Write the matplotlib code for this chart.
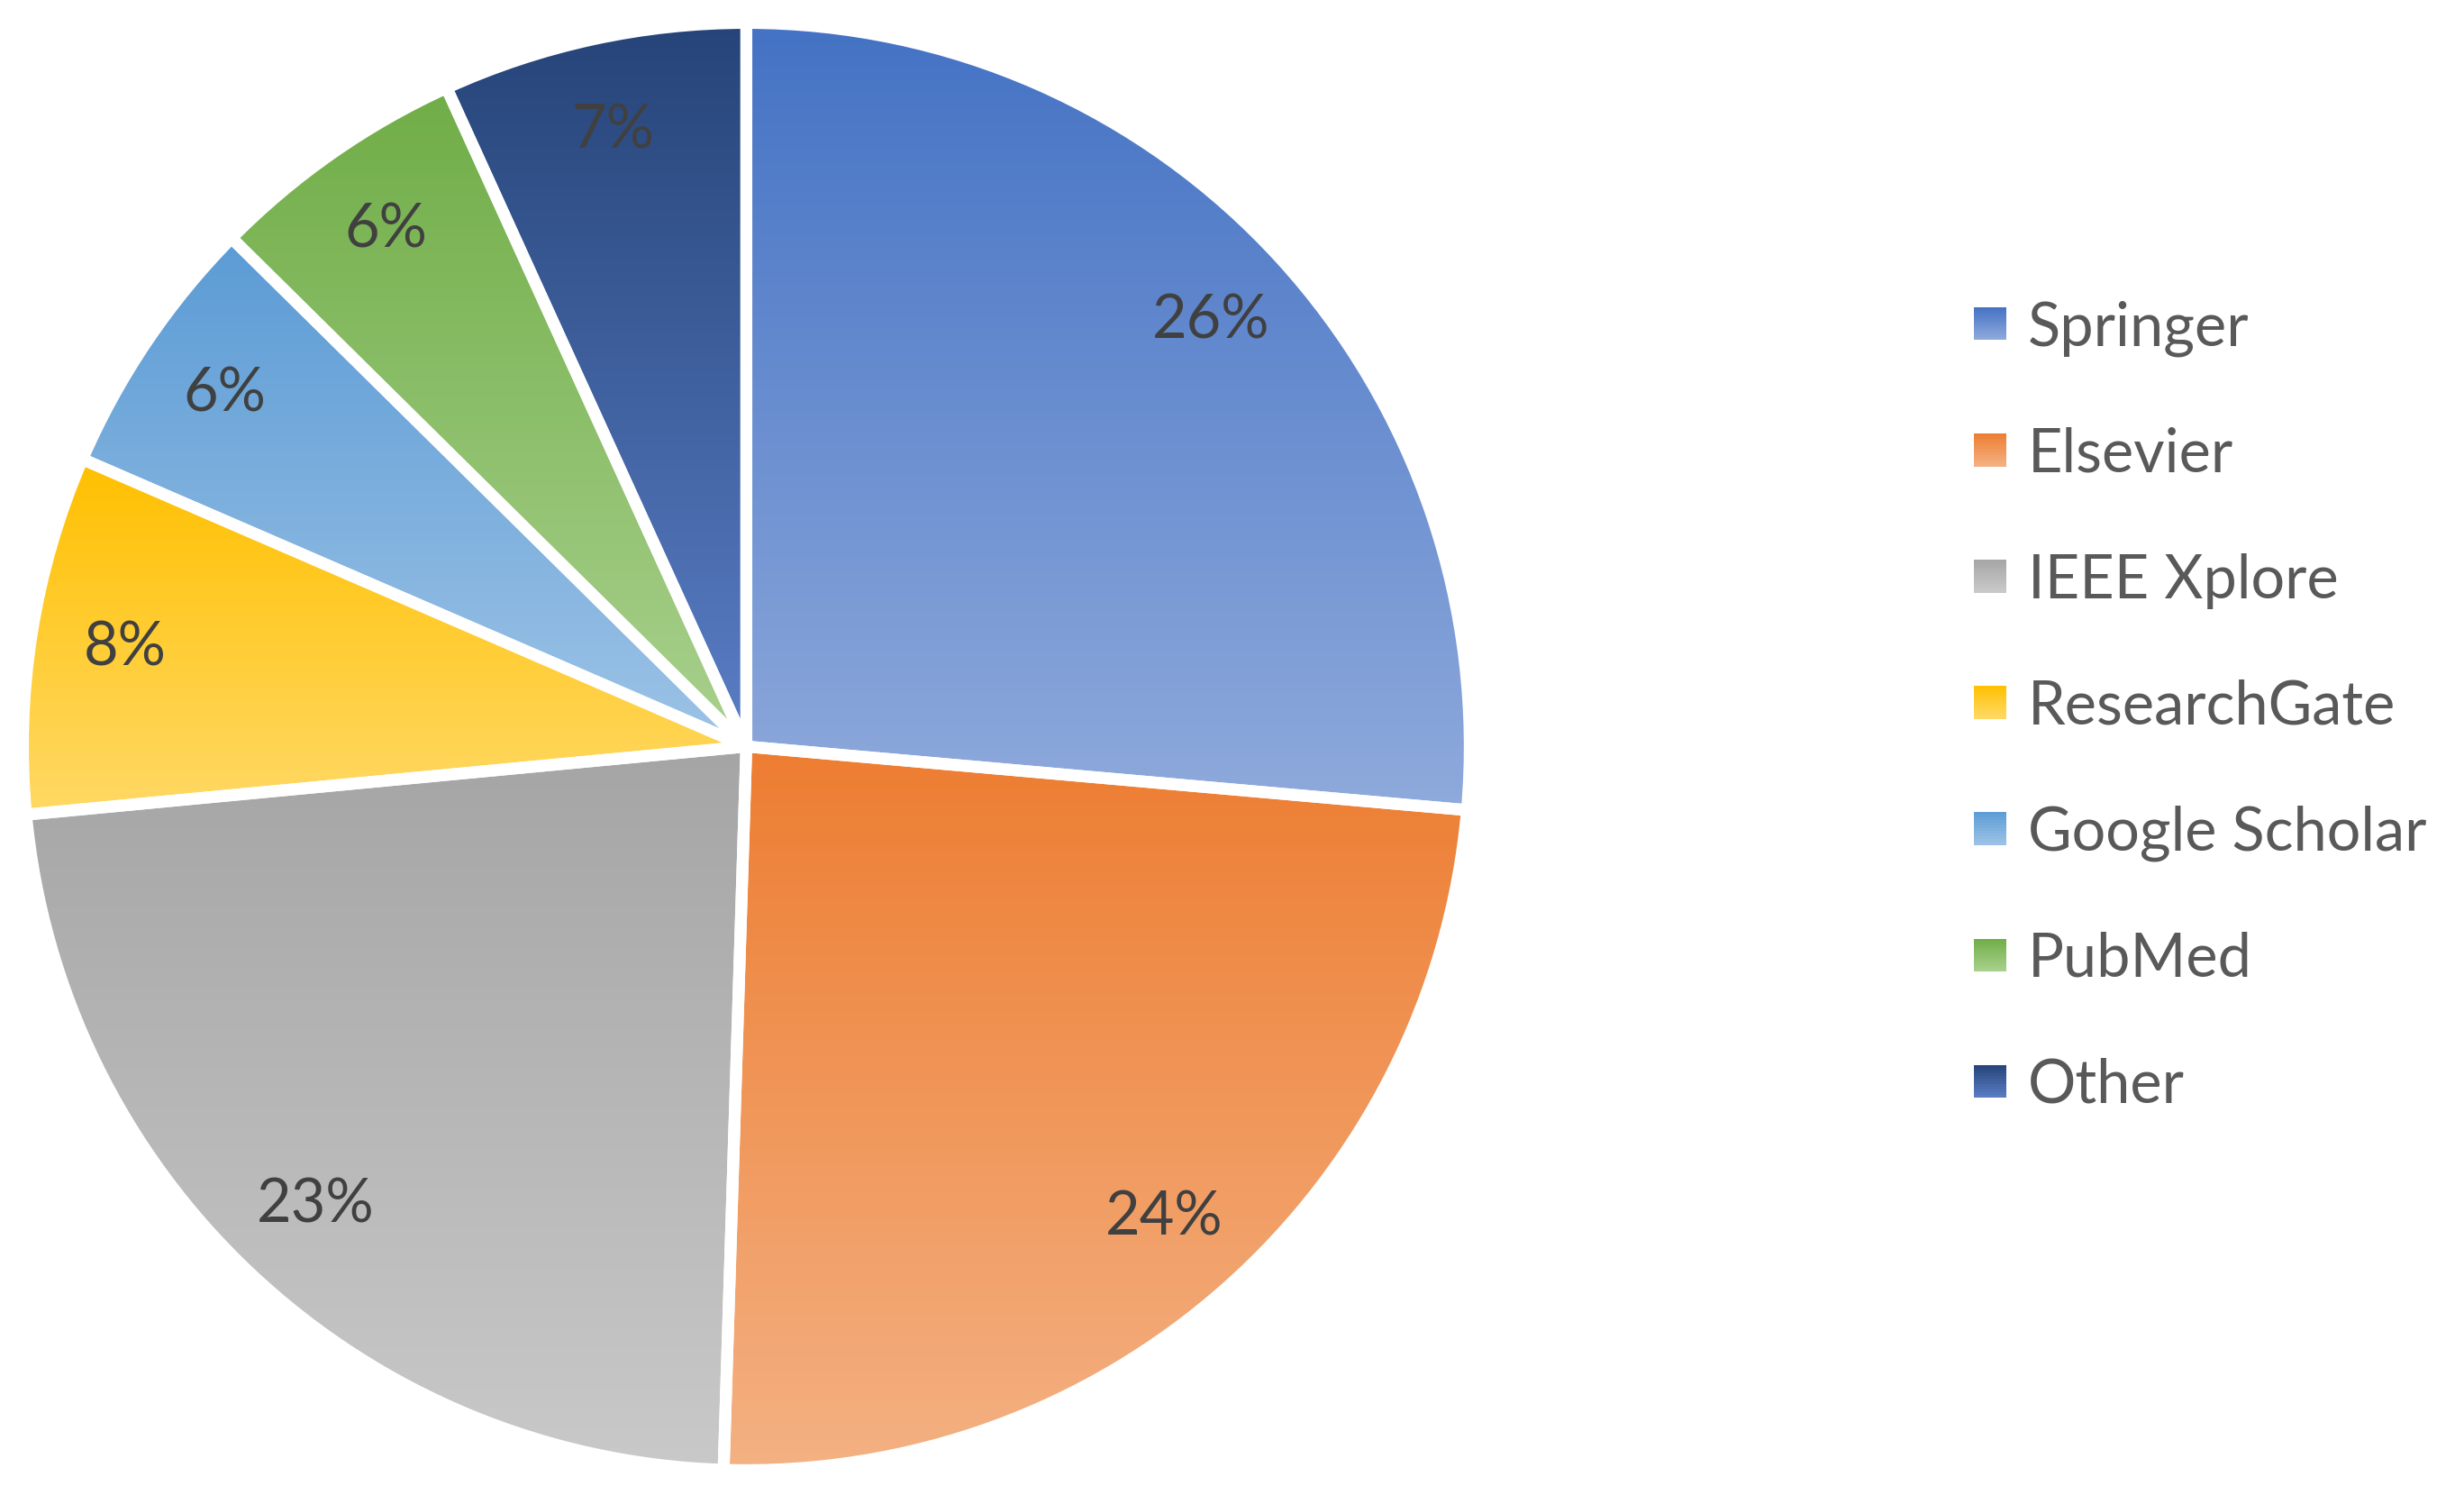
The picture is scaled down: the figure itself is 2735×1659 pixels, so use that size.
import matplotlib
matplotlib.use("Agg")
import matplotlib.pyplot as plt
import numpy as np
from matplotlib.colors import to_rgb
from matplotlib.patches import Rectangle
from matplotlib.legend_handler import HandlerBase

sources = ["Springer", "Elsevier", "IEEE Xplore", "ResearchGate",
           "Google Scholar", "PubMed", "Other"]
shares = [26.4, 24.1, 23.0, 8.0, 5.9, 5.8, 6.8]

# gradient colours (top -> bottom) for each slice
top_colors = ["#4472C4", "#ED7D31", "#A5A5A5", "#FFC000", "#5B9BD5", "#70AD47", "#264478"]
bottom_colors = ["#8FAADC", "#F4B183", "#C9C9C9", "#FFD966", "#9DC3E6", "#A9D18E", "#5A7EC6"]

plt.rcParams["font.family"] = ["Lato", "DejaVu Sans"]


def gradient(c_top, c_bot, n=256):
    t = np.linspace(0, 1, n)[:, None]
    a, b = np.array(to_rgb(c_top)), np.array(to_rgb(c_bot))
    return (a * (1 - t) + b * t)[:, None, :]


class GradientSquare(HandlerBase):
    def create_artists(self, legend, orig_handle, xdescent, ydescent,
                       width, height, fontsize, trans):
        c_top, c_bot = orig_handle
        n = 12
        side = height
        x0 = -xdescent + (width - side) / 2
        y0 = -ydescent
        arts = []
        for i in range(n):
            t = (i + 0.5) / n
            col = np.array(to_rgb(c_top)) * (1 - t) + np.array(to_rgb(c_bot)) * t
            arts.append(Rectangle((x0, y0 + side * (1 - (i + 1) / n)), side, side / n + 0.3,
                                  facecolor=col, edgecolor="none", transform=trans))
        return arts


fig = plt.figure(figsize=(27.35, 16.59), dpi=100)
ax = fig.add_axes([0.0093, 0.0166, 0.5872, 0.9681])

wedges, texts, autotexts = ax.pie(
    shares, startangle=90, counterclock=False, radius=1.0,
    autopct="%.0f%%", pctdistance=0.87,
    wedgeprops=dict(facecolor="none", edgecolor="white", linewidth=9.5,
                    joinstyle="round"),
    textprops=dict(color="#404040", fontsize=48),
)

for w, ct, cb in zip(wedges, top_colors, bottom_colors):
    bb = w.get_path().get_extents()
    im = ax.imshow(gradient(ct, cb), extent=[bb.x0, bb.x1, bb.y0, bb.y1],
                   origin="upper", aspect="auto", zorder=1, interpolation="bilinear")
    im.set_clip_path(w)
    w.set_zorder(2)

for t in autotexts:
    t.set_zorder(5)

ax.set_xlim(-1.0, 1.0)
ax.set_ylim(-1.0, 1.0)
ax.set_aspect("equal")
ax.axis("off")

handles = list(zip(top_colors, bottom_colors))
leg = fig.legend(handles, sources, handler_map={tuple: GradientSquare()},
                 loc="upper left", bbox_to_anchor=(2194 / 2735, 1 - 333 / 1659),
                 frameon=False, fontsize=48, labelcolor="#595959",
                 handlelength=0.45, handleheight=0.45, handletextpad=0.4,
                 labelspacing=1.17, borderpad=0, borderaxespad=0)

fig.savefig("out.png", dpi=100)
